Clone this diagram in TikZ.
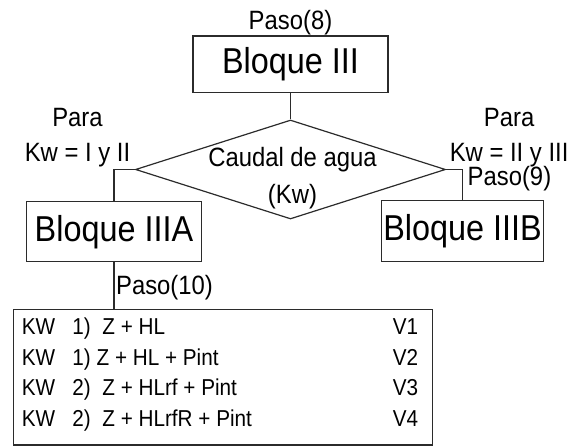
\documentclass[tikz,border=0pt]{standalone}
\usepackage{fontspec}
\setmainfont{Liberation Sans}[FakeStretch=0.9]
\usepackage{xcolor}
\usepackage{tikz}
\usetikzlibrary{positioning,calc,shapes.geometric}
\definecolor{LineGray}{HTML}{2B2B2B}

\begin{document}
\begin{tikzpicture}[x=1pt,y=-1pt,
    linea/.style={draw=LineGray,line width=1.2pt},
    bloque/.style={linea,inner sep=0pt,font=\fontsize{36}{40}\selectfont},
    rotulo/.style={inner sep=0pt,align=center,font=\fontsize{26.5}{35}\selectfont},
    fila/.style={inner sep=0pt,anchor=base west,font=\fontsize{23}{26}\selectfont}]
  \useasboundingbox (0,0) rectangle (571,446);
  % bloques y decision
  \node[bloque,minimum width=195pt,minimum height=56.7pt] (b3) at (290.5,64.3) {Bloque III};
  \node[rotulo,above=0pt of b3] (p8) {Paso(8)};
  \node[diamond,linea,minimum width=310pt,minimum height=99pt,inner sep=0pt] (caudal) at (290.5,169.5) {};
  \node[rotulo,font=\fontsize{26.5}{37}\selectfont] (caudaltxt) at (292.5,178.2) {Caudal de agua\\(Kw)};
  \node[bloque,minimum width=175pt,minimum height=60pt] (b3a) at (114,231.7) {Bloque IIIA};
  \node[bloque,minimum width=161.6pt,minimum height=61.7pt] (b3b) at (462.5,231) {Bloque IIIB};
  \node[linea,minimum width=419.2pt,minimum height=135.7pt,inner sep=0pt] (lst) at (222.9,377.2) {};
  % conectores
  \draw[linea] (b3.south) -- (caudal.north);
  \draw[linea] (caudal.west) -| (b3a.north);
  \draw[linea] (caudal.east) -| (b3b.north);
  \draw[linea] (b3a.south) -- node[rotulo,anchor=west,xshift=1.5pt,yshift=-2.5pt] (p10) {Paso(10)}
        (b3a.south |- lst.north);
  \coordinate (esq) at (caudal.east -| b3b.north);
  % rotulos
  \node[rotulo,anchor=south east] (parai) at ([xshift=-4.5pt,yshift=2pt]caudal.west) {Para\\Kw = I y II};
  \node[rotulo,anchor=south west] (paraii) at ([xshift=3.5pt,yshift=2pt]caudal.east) {Para\\Kw = II y III};
  \node[rotulo,anchor=north west] (p9) at ([xshift=5pt,yshift=3pt]esq) {Paso(9)};
  \foreach \yy/\ff/\vv in {335/{KW~~~1)~~Z + HL}/V1,365.5/{KW~~~1)~Z + HL + Pint}/V2,
      396/{KW~~~2)~~Z + HLrf + Pint}/V3,426.5/{KW~~~2)~~Z + HLrfR + Pint}/V4}{
    \node[fila] (f\vv) at (21.7,\yy) {\ff};
    \node[fila,anchor=base east] (v\vv) at (418.3,\yy) {\vv};
  }
\end{tikzpicture}
\end{document}
